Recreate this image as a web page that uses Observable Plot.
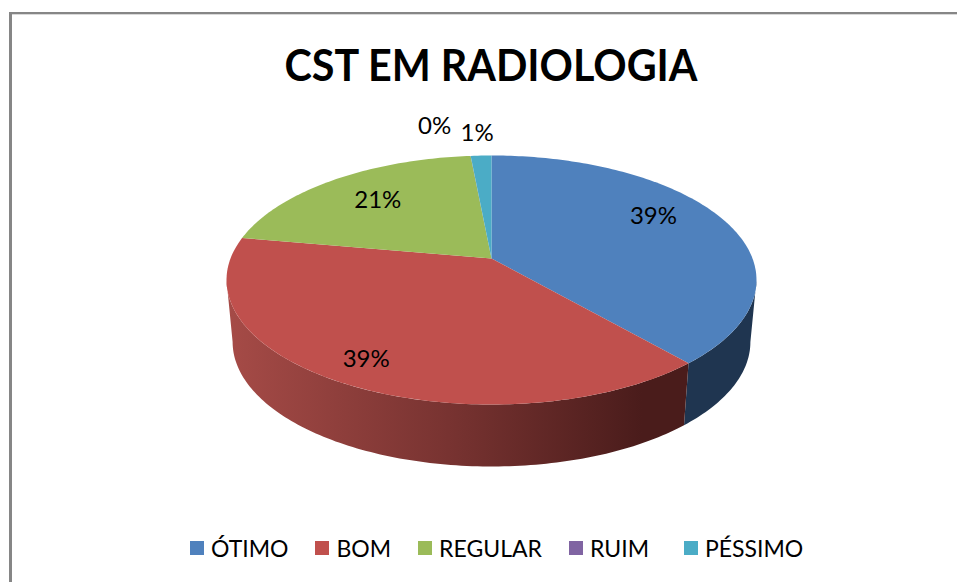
<!DOCTYPE html>
<html lang="pt">
<head>
<meta charset="utf-8">
<script src="https://cdn.jsdelivr.net/npm/d3@7"></script>
<script src="https://cdn.jsdelivr.net/npm/@observablehq/plot@0.6"></script>
<style>
html,body{margin:0;padding:0;background:#fff}
#frame{position:relative;width:957px;height:582px;overflow:hidden;background:#fff;font-family:Lato,"Noto Sans",sans-serif;color:#000}
#frame .line-h{position:absolute;left:9px;top:12px;right:0;height:3px;background:linear-gradient(#868686 67%,#d9d9d9 67%)}
#frame .line-v{position:absolute;left:9px;top:12px;bottom:0;width:3px;background:#868686}
#title{position:absolute;left:0;top:36px;width:982px;text-align:center;font-size:44px;font-weight:700;line-height:56px;white-space:nowrap;transform:scaleX(.938)}
#chart{position:absolute;left:0;top:100px}
#chart svg{background:transparent}
#legend{position:absolute;left:190px;top:532px;display:flex;font-size:23px;line-height:32px;white-space:nowrap}
#legend .item{display:flex;align-items:center}
#legend .sw{width:14px;height:14px;margin-right:7px}
</style>
</head>
<body>
<div id="frame">
  <div class="line-h"></div><div class="line-v"></div>
  <div id="title">CST EM RADIOLOGIA</div>
  <div id="chart"></div>
  <div id="legend"></div>
</div>
<script>
const categories = ["ÓTIMO", "BOM", "REGULAR", "RUIM", "PÉSSIMO"];
const shares = [38.6, 39.2, 20.7, 0.01, 1.49];
const colors = ["#4f81bd", "#c0504d", "#9bbb59", "#8064a2", "#4bacc6"];
const labelRadius = [0.75, 0.85, 0.7, 1.36, 1.245];
const labelTurn = [-8, 0, 0, -6, -0.4];
const legendGaps = [27, 27, 27, 35, 0];

// Tilted-disc view of the unit circle
const tilt = 0.1727, depth = 0.513, baseScale = 0.977;
const project = (angle, r = 1) => {
  const u = r * Math.sin(angle), v = -r * Math.cos(angle), d = 1 - tilt * v;
  return {x: u / d, y: v / d};
};
const toRad = (deg) => deg * Math.PI / 180;
const total = d3.sum(shares);
const ends = d3.cumsum(shares).map((c) => c / total * 2 * Math.PI);
const starts = [0, ...ends.slice(0, -1)];

const arcAngles = (a0, a1) => {
  const n = Math.max(2, Math.ceil((a1 - a0) / toRad(1)));
  return d3.range(n + 1).map((i) => a0 + (a1 - a0) * i / n);
};
const sliceTop = categories.map((name, i) => [
  {x: 0, y: 0},
  ...arcAngles(starts[i], ends[i]).map((a) => project(a))
]);
const base = (p) => ({x: p.x * baseScale, y: p.y + depth});
const sideBand = (a0, a1) => {
  const rim = arcAngles(a0, a1).map((a) => project(a));
  return [...rim, ...rim.map(base).reverse()];
};
const silhouetteRight = Math.acos(-tilt), silhouetteLeft = 2 * Math.PI - silhouetteRight;
const sideBlue = sideBand(silhouetteRight, ends[0]);
const sideRed = sideBand(ends[0], silhouetteLeft);

const labels = categories.map((name, i) => {
  const p = project((starts[i] + ends[i]) / 2 + toRad(labelTurn[i]), labelRadius[i]);
  return {...p, text: d3.format(".0%")(shares[i] / total)};
});

const polygon = (pts, fill) => Plot.line(pts, {x: "x", y: "y", fill, stroke: "none"});
const gradient = () => {
  const ns = "http://www.w3.org/2000/svg";
  const defs = document.createElementNS(ns, "defs");
  const g = document.createElementNS(ns, "linearGradient");
  g.setAttribute("id", "redSide");
  [[0, "#a64b47"], [0.5, "#763230"], [0.9, "#4a1c1b"], [1, "#4a1c1b"]].forEach(([o, c]) => {
    const s = document.createElementNS(ns, "stop");
    s.setAttribute("offset", o);
    s.setAttribute("stop-color", c);
    g.appendChild(s);
  });
  defs.appendChild(g);
  return defs;
};

const chart = Plot.plot({
  width: 957, height: 390,
  margin: 0,
  x: {domain: [-1, 1], range: [230, 752], axis: null},
  y: {domain: [-1, 1], range: [37.2, 278.8], axis: null},
  marks: [
    gradient,
    polygon(sideBlue, "#1f3550"),
    polygon(sideRed, "url(#redSide)"),
    ...sliceTop.map((pts, i) => polygon(pts, colors[i])),
    Plot.text(labels, {x: "x", y: "y", text: "text", dy: -1.5, fontSize: 24, fontFamily: "Lato", fill: "#000"})
  ]
});
document.getElementById("chart").appendChild(chart);

const legend = d3.select("#legend");
categories.forEach((name, i) => {
  const item = legend.append("div").attr("class", "item").style("margin-right", legendGaps[i] + "px");
  item.append("span").attr("class", "sw").style("background", colors[i]);
  item.append("span").text(name);
});
</script>
</body>
</html>
